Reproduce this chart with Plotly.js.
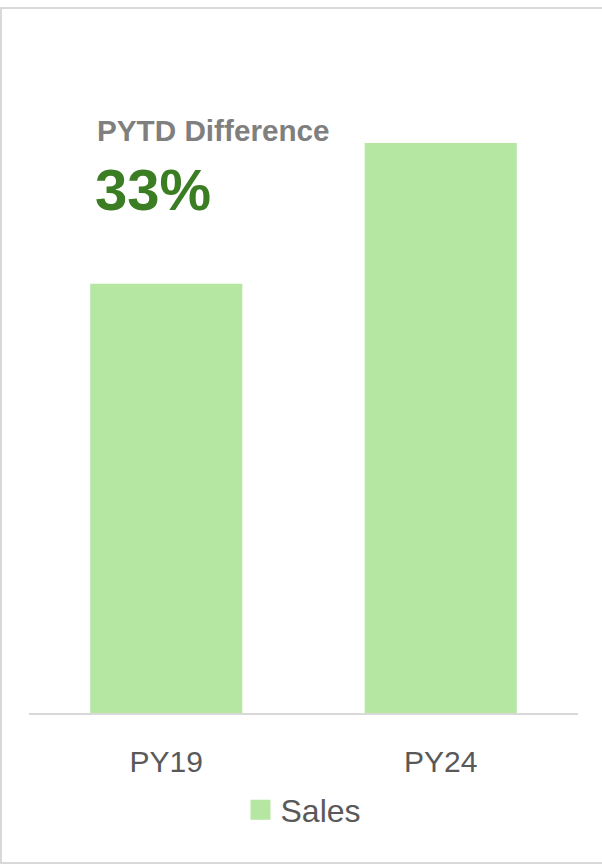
<!DOCTYPE html>
<html>
<head>
<meta charset="utf-8">
<script src="https://cdn.plot.ly/plotly-3.0.1.min.js"></script>
<style>
html,body{margin:0;padding:0;background:#fff;}
#chart{width:602px;height:865px;}
</style>
</head>
<body>
<div id="chart"></div>
<script>
const categories = ["PY19", "PY24"];
const sales = [75.3, 100];
const seriesName = "Sales";
const kpiLabel = "PYTD Difference";
const kpiValue = "33%";

const FONT = "Liberation Sans, Arial, sans-serif";
const BAR_COLOR = "#b5e6a2";

const barTrace = {
  type: "bar",
  x: categories,
  y: sales,
  name: seriesName,
  marker: {color: BAR_COLOR},
  hoverinfo: "skip",
  showlegend: false,
  legendgroup: "s"
};

// legend entry for the same series, drawn with a larger square swatch
const legendTrace = {
  type: "scatter",
  mode: "markers",
  x: [null],
  y: [null],
  name: seriesName,
  legendgroup: "s",
  marker: {symbol: "square", size: 16, color: BAR_COLOR, line: {color: BAR_COLOR, width: 4}},
  hoverinfo: "skip",
  showlegend: true
};

const layout = {
  width: 602,
  height: 865,
  margin: {l: 29, r: 24, t: 40, b: 152, autoexpand: false},
  paper_bgcolor: "#ffffff",
  plot_bgcolor: "#ffffff",
  bargap: 0.446,
  showlegend: true,
  font: {family: FONT, color: "#595959"},
  xaxis: {
    type: "category",
    showline: true,
    linecolor: "#d9d9d9",
    linewidth: 2,
    showgrid: false,
    zeroline: false,
    ticks: "",
    automargin: false,
    ticklabelstandoff: 21,
    tickfont: {family: FONT, size: 30, color: "#595959"}
  },
  yaxis: {
    range: [0, 118.07],
    visible: false,
    showgrid: false,
    zeroline: false,
    automargin: false
  },
  legend: {
    orientation: "h",
    x: 0.5,
    xanchor: "center",
    y: (713 - 810) / 673,
    yanchor: "middle",
    bgcolor: "rgba(0,0,0,0)",
    itemsizing: "trace",
    font: {family: FONT, size: 32, color: "#595959"},
    itemwidth: 30
  },
  annotations: [
    {
      xref: "paper", yref: "paper",
      x: (95 - 29) / 549, y: (713 - 131) / 673,
      xanchor: "left", yanchor: "middle",
      text: "<b>" + kpiLabel + "</b>",
      showarrow: false,
      font: {family: FONT, size: 29.7, color: "#7f7f7f"}
    },
    {
      xref: "paper", yref: "paper",
      x: (93 - 29) / 549, y: (713 - 189) / 673,
      xanchor: "left", yanchor: "middle",
      text: "<b>" + kpiValue + "</b>",
      showarrow: false,
      font: {family: FONT, size: 58, color: "#3a7d22"}
    }
  ],
  shapes: [
    {
      type: "rect", xref: "paper", yref: "paper",
      x0: (1 - 29) / 549, x1: (606 - 29) / 549,
      y0: (713 - 863) / 673, y1: (713 - 8) / 673,
      line: {color: "#d9d9d9", width: 2},
      fillcolor: "rgba(0,0,0,0)",
      layer: "below"
    }
  ]
};

Plotly.newPlot("chart", [barTrace, legendTrace], layout, {displayModeBar: false, staticPlot: true});
</script>
</body>
</html>
